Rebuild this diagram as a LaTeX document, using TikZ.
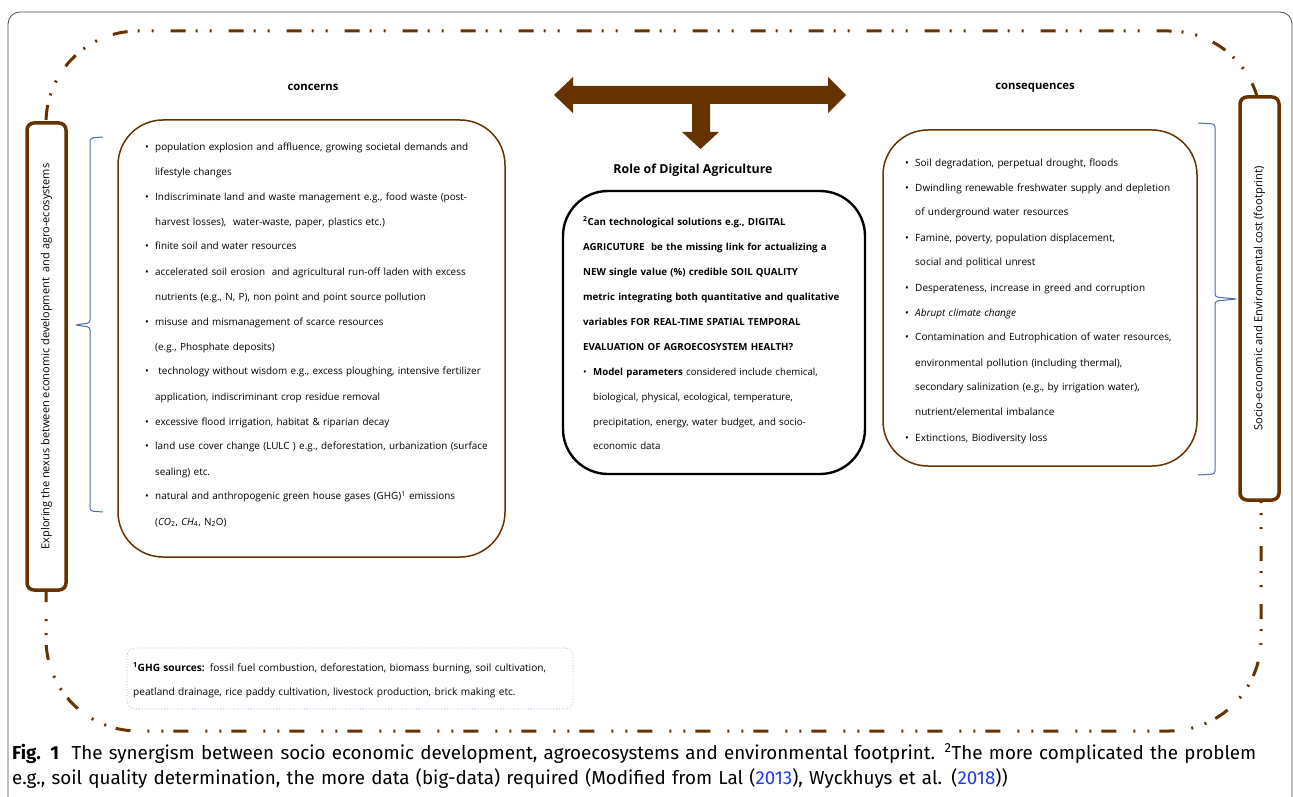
\documentclass[tikz,border=0pt]{standalone}
\usepackage{fontspec}
\setmainfont{Open Sans}
\newfontfamily\capfont{Fira Sans}
\usetikzlibrary{positioning}
\definecolor{soilbrown}{RGB}{102,51,0}
\definecolor{braceblue}{RGB}{79,110,170}
\definecolor{notepurple}{RGB}{185,150,230}
\definecolor{citeblue}{RGB}{30,60,230}
\newcommand{\bul}{\makebox[10pt][l]{\textbullet}}
\newcommand{\ind}{\hspace*{10pt}}

\begin{document}
\begin{tikzpicture}[x=1pt,y=-1pt]
\useasboundingbox (0,0) rectangle (1293,797);
\fill[white] (0,0) rectangle (1293,797);

% figure frame
\draw[black!70, line width=0.8pt, rounded corners=12pt] (8,12) rectangle (1292,840);

\tikzstyle{loopline}=[draw=soilbrown, line width=3pt, dash pattern=on 15pt off 17pt on 2pt off 12pt on 2pt off 10pt]
\draw[loopline, rounded corners=92pt] (46,31) rectangle (1261,731);

\tikzstyle{sidebox}=[draw=soilbrown, fill=white, line width=3.5pt, rounded corners=7pt, inner sep=0pt, font=\fontsize{11}{12}\selectfont]
\node[sidebox, rotate=90, minimum width=467, minimum height=39] (nexus) at (46.5,356.5) {Exploring the nexus between economic development\ \ and agro-ecosystems};
\node[sidebox, rotate=90, minimum width=403, minimum height=39, font=\fontsize{11.2}{12}\selectfont] (footprint) at (1259.5,298.5) {Socio-economic and Environmental cost (footprint)};

\tikzstyle{headlabel}=[inner sep=0pt, font=\bfseries\fontsize{11.3}{12}\selectfont]
\node[headlabel] (concerns) at (313,87) {concerns};
\node[headlabel] (consequences) at (1035,88) {consequences};
\node[headlabel, font=\bfseries\fontsize{12.4}{13}\selectfont] (role) at (693,170) {Role of Digital Agriculture};

% T-shaped arrow
\fill[soilbrown] (554,95) -- (573,77) -- (573,86) -- (828,86) -- (828,77) -- (846,95) -- (828,113) -- (828,104)
  -- (710,104) -- (710,132) -- (719,132) -- (700.5,149) -- (682,132) -- (692,132) -- (692,104)
  -- (573,104) -- (573,113) -- cycle;

\tikzstyle{panel}=[draw=soilbrown, line width=1.5pt, rounded corners=45pt, inner sep=0pt]
\node[panel, minimum width=387, minimum height=437] (concbox) at (311.5,338.5) {};
\node[panel, draw=black, line width=2.4pt, minimum width=302, minimum height=283] (rolebox) at (714,332.5) {};
\node[panel, minimum width=314, minimum height=336] (consbox) at (1040,298) {};

\tikzstyle{listtext}=[anchor=base west, inner sep=0pt, align=left, text width=380pt, font=\fontsize{9.9}{25}\selectfont]
\node[listtext] (conctext) at (145,150) {%
\bul population explosion and affluence, growing societal demands and\\
\ind lifestyle changes\\
\bul Indiscriminate land and waste management e.g., food waste (post-\\
\ind harvest losses),\ \ water-waste, paper, plastics etc.)\\
\bul finite soil and water resources\\
\bul accelerated soil erosion\ \ and agricultural run-off laden with excess\\
\ind nutrients (e.g., N, P), non point and point source pollution\\
\bul misuse and mismanagement of scarce resources\\
\ind (e.g., Phosphate deposits)\\
\bul\ technology without wisdom e.g., excess ploughing, intensive fertilizer\\
\ind application, indiscriminant crop residue removal\\
\bul excessive flood irrigation, habitat \& riparian decay\\
\bul land use cover change (LULC ) e.g., deforestation, urbanization (surface\\
\ind sealing) etc.\\
\bul natural and anthropogenic green house gases (GHG)\textsuperscript{1} emissions\\
\ind (\textit{CO}\textsubscript{2}, \textit{CH}\textsubscript{4}, N\textsubscript{2}O)};

\node[listtext, text width=290pt, font=\fontsize{9.7}{25}\selectfont] (roletext) at (583,225) {%
\textbf{\textsuperscript{2}Can technological solutions e.g., DIGITAL}\\
\textbf{AGRICUTURE\ \ be the missing link for actualizing a}\\
\textbf{NEW single value (\%) credible SOIL QUALITY}\\
\textbf{metric integrating both quantitative and qualitative}\\
\textbf{variables FOR REAL-TIME SPATIAL TEMPORAL}\\
\textbf{EVALUATION OF AGROECOSYSTEM HEALTH?}\\
\bul\textbf{Model parameters} considered include chemical,\\
\ind biological, physical, ecological, temperature,\\
\ind precipitation, energy, water budget, and socio-\\
\ind economic data};

\node[listtext, text width=300pt, font=\fontsize{10}{25}\selectfont] (constext) at (905,166) {%
\bul Soil degradation, perpetual drought, floods\\
\bul Dwindling renewable freshwater supply and depletion\\
\ind of underground water resources\\
\bul Famine, poverty, population displacement,\\
\ind social and political unrest\\
\bul Desperateness, increase in greed and corruption\\
\bul \textit{Abrupt climate change}\\
\bul Contamination and Eutrophication of water resources,\\
\ind environmental pollution (including thermal),\\
\ind secondary salinization (e.g., by irrigation water),\\
\ind nutrient/elemental imbalance\\
\bul Extinctions, Biodiversity loss};

% braces
\tikzstyle{bracepath}=[draw=braceblue, line width=1pt, rounded corners=3pt]
\draw[bracepath] (103,137) -- (90,138) -- (90,323) -- (75,325) -- (90,327) -- (90,511) -- (103,512);
\draw[bracepath] (1198,123) -- (1215,124) -- (1215,297) -- (1237,299) -- (1215,301) -- (1215,474) -- (1198,475);

% footnote
\node[draw=notepurple, dotted, line width=0.8pt, rounded corners=8pt, minimum width=446, minimum height=61, inner sep=0pt] (notebox) at (350,678.5) {};
\node[listtext, text width=440pt, font=\fontsize{10.1}{24}\selectfont] (notetext) at (133,671) {%
\textbf{\textsuperscript{1}GHG sources:} fossil fuel combustion, deforestation, biomass burning, soil cultivation,\\
peatland drainage, rice paddy cultivation, livestock production, brick making etc.};

% caption
\node[anchor=base west, inner sep=0pt, align=left, text width=1280pt, font=\capfont\fontsize{18.8}{25}\selectfont] (caption) at (12,759) {%
\textbf{Fig. 1}\ \ The synergism between socio economic development, agroecosystems and environmental footprint. \textsuperscript{2}The more complicated the problem\\
e.g., soil quality determination, the more data (big-data) required (Modified from Lal (\textcolor{citeblue}{2013}), Wyckhuys et al. (\textcolor{citeblue}{2018}))};
\end{tikzpicture}
\end{document}
